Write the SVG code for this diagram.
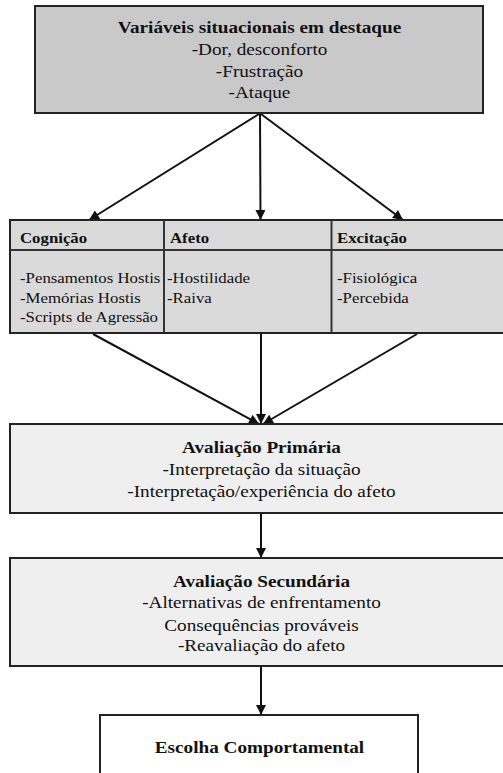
<svg xmlns="http://www.w3.org/2000/svg" width="503" height="773" viewBox="0 0 503 773">
<defs>
<style>
.box{stroke:#222;stroke-width:2}
.t{font-family:"Liberation Serif","Times New Roman",serif;fill:#111}
.b{font-weight:bold;font-size:16px}
.r{font-size:16px}
.sb{font-weight:bold;font-size:14px}
.sr{font-size:14px}
.c{text-anchor:middle}
.ln{stroke:#111;stroke-width:2;fill:none;marker-end:url(#ah)}
.div{stroke:#333;stroke-width:2}
</style>
<marker id="ah" viewBox="0 0 10 10" refX="10" refY="5" markerWidth="5.5" markerHeight="5" orient="auto" markerUnits="strokeWidth">
<path d="M0,0 L10,5 L0,10 z" fill="#111"/>
</marker>
</defs>
<rect width="503" height="773" fill="#fff"/>

<g id="connectors">
<line class="ln" x1="259" y1="114" x2="89" y2="220"/>
<line class="ln" x1="260" y1="114" x2="260.5" y2="220"/>
<line class="ln" x1="261" y1="114" x2="403" y2="220"/>
<line class="ln" x1="93" y1="334" x2="259" y2="424"/>
<line class="ln" x1="261" y1="334" x2="261" y2="424"/>
<line class="ln" x1="417" y1="334" x2="263" y2="424"/>
<line class="ln" x1="261" y1="513" x2="261" y2="558"/>
<line class="ln" x1="261" y1="666" x2="261" y2="715"/>
</g>

<g id="situacionais">
<rect class="box" x="35" y="6" width="448" height="107" fill="#c9c9c9"/>
<text class="t b c" transform="translate(259.5 33) scale(1.2 1)">Variáveis situacionais em destaque</text>
<text class="t r c" transform="translate(259.5 55) scale(1.2 1)">-Dor, desconforto</text>
<text class="t r c" transform="translate(259.5 77) scale(1.2 1)">-Frustração</text>
<text class="t r c" transform="translate(259.5 98) scale(1.2 1)">-Ataque</text>
</g>

<g id="mediadores">
<rect class="box" x="10" y="220" width="500" height="113" fill="#dadada"/>
<line class="div" x1="10" y1="250" x2="503" y2="250"/>
<line class="div" x1="164" y1="220" x2="164" y2="333"/>
<line class="div" x1="331.5" y1="220" x2="331.5" y2="333"/>
</g>

<g id="cognicao">
<text class="t sb" transform="translate(20 243) scale(1.2 1)">Cognição</text>
<text class="t sr" transform="translate(20 283) scale(1.2 1)">-Pensamentos Hostis</text>
<text class="t sr" transform="translate(20 303) scale(1.2 1)">-Memórias Hostis</text>
<text class="t sr" transform="translate(20 322) scale(1.2 1)">-Scripts de Agressão</text>
</g>

<g id="afeto">
<text class="t sb" transform="translate(170 243) scale(1.2 1)">Afeto</text>
<text class="t sr" transform="translate(167 283) scale(1.2 1)">-Hostilidade</text>
<text class="t sr" transform="translate(167 303) scale(1.2 1)">-Raiva</text>
</g>

<g id="excitacao">
<text class="t sb" transform="translate(337 243) scale(1.2 1)">Excitação</text>
<text class="t sr" transform="translate(337 283) scale(1.2 1)">-Fisiológica</text>
<text class="t sr" transform="translate(337 303) scale(1.2 1)">-Percebida</text>
</g>

<g id="primaria">
<rect class="box" x="10" y="424" width="500" height="89" fill="#efefef"/>
<text class="t b c" transform="translate(261.5 453) scale(1.2 1)">Avaliação Primária</text>
<text class="t r c" transform="translate(261.5 475) scale(1.2 1)">-Interpretação da situação</text>
<text class="t r c" transform="translate(261.5 497) scale(1.2 1)">-Interpretação/experiência do afeto</text>
</g>

<g id="secundaria">
<rect class="box" x="10" y="558" width="500" height="108" fill="#efefef"/>
<text class="t b c" transform="translate(261.5 587) scale(1.2 1)">Avaliação Secundária</text>
<text class="t r c" transform="translate(261.5 608) scale(1.2 1)">-Alternativas de enfrentamento</text>
<text class="t r c" transform="translate(261.5 631) scale(1.2 1)">Consequências prováveis</text>
<text class="t r c" transform="translate(261.5 651) scale(1.2 1)">-Reavaliação do afeto</text>
</g>

<g id="escolha">
<rect class="box" x="100" y="715" width="318" height="70" fill="#fff"/>
<text class="t b c" transform="translate(259.5 753) scale(1.2 1)">Escolha Comportamental</text>
</g>
</svg>
